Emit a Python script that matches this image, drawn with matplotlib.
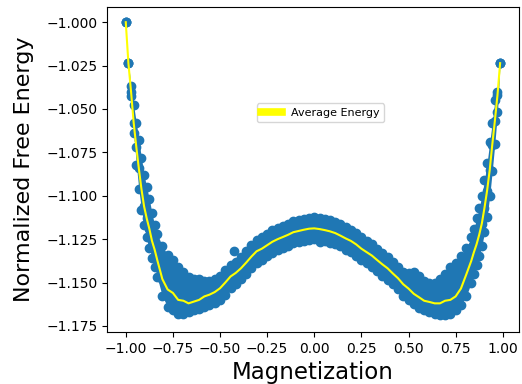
import numpy as np
import matplotlib.pyplot as plt

# Magnetization grid (finer on the steep ends)
m = [-1.000, -0.986, -0.972, -0.958, -0.944, -0.931, -0.917, -0.903, -0.889, -0.875, -0.861, -0.847, -0.833,
     -0.806, -0.778, -0.750, -0.722, -0.694, -0.667, -0.639, -0.611, -0.583, -0.556, -0.528, -0.500,
     -0.472, -0.444, -0.417, -0.389, -0.361, -0.333, -0.306, -0.278, -0.250, -0.222, -0.194, -0.167,
     -0.139, -0.111, -0.083, -0.056, -0.028, 0.000, 0.028, 0.056, 0.083, 0.111, 0.139, 0.167, 0.194,
     0.222, 0.250, 0.278, 0.306, 0.333, 0.361, 0.389, 0.417, 0.444, 0.472, 0.500, 0.528, 0.556, 0.583,
     0.611, 0.639, 0.667, 0.694, 0.722, 0.750, 0.778, 0.806,
     0.833, 0.847, 0.861, 0.875, 0.889, 0.903, 0.917, 0.931, 0.944, 0.958, 0.972, 0.986]

# Average free energy at each magnetization
e_avg = [-1.000, -1.0236, -1.040, -1.058, -1.072, -1.084, -1.096, -1.106, -1.113, -1.119, -1.126, -1.131, -1.137,
         -1.148, -1.154, -1.156, -1.160, -1.1605, -1.162, -1.161, -1.160, -1.158, -1.157, -1.1555, -1.1533,
         -1.150, -1.1465, -1.1445, -1.1418, -1.1385, -1.135, -1.132, -1.1305, -1.1285, -1.1265, -1.125, -1.1238,
         -1.1225, -1.121, -1.1203, -1.1196, -1.119, -1.1188, -1.1192, -1.1198, -1.1205, -1.1215, -1.123, -1.1246, -1.126,
         -1.128, -1.1305, -1.1325, -1.1345, -1.137, -1.1395, -1.1418, -1.1448, -1.1475, -1.151, -1.1535, -1.1565, -1.1585, -1.1605,
         -1.1612, -1.162, -1.162, -1.1605, -1.160, -1.158, -1.1535, -1.1455,
         -1.1375, -1.1325, -1.128, -1.1225, -1.116, -1.107, -1.097, -1.085, -1.071, -1.057, -1.042, -1.0236]

# Lowest and highest sampled energies at each magnetization
e_low = [-1.000, -1.0236, -1.0425, -1.064, -1.082, -1.096, -1.108, -1.117, -1.124, -1.130, -1.136, -1.141, -1.147,
         -1.158, -1.164, -1.166, -1.168, -1.168, -1.167, -1.166, -1.165, -1.164, -1.163, -1.162, -1.160,
         -1.157, -1.153, -1.151, -1.148, -1.145, -1.1415, -1.1385, -1.137, -1.135, -1.133, -1.1315, -1.130,
         -1.129, -1.1275, -1.1265, -1.126, -1.1255, -1.125, -1.1265, -1.126, -1.127, -1.128, -1.129, -1.131, -1.1325,
         -1.1345, -1.137, -1.139, -1.141, -1.1435, -1.146, -1.1485, -1.151, -1.154, -1.1575, -1.160, -1.1625, -1.1645, -1.166,
         -1.167, -1.168, -1.169, -1.169, -1.168, -1.166, -1.163, -1.158,
         -1.150, -1.145, -1.140, -1.135, -1.129, -1.121, -1.112, -1.100, -1.086, -1.070, -1.052, -1.0236]

e_high = [-1.000, -1.0236, -1.0367, -1.048, -1.058, -1.068, -1.078, -1.088, -1.095, -1.102, -1.110, -1.117, -1.122,
          -1.129, -1.134, -1.137, -1.141, -1.144, -1.147, -1.148, -1.148, -1.149, -1.149, -1.148, -1.146,
          -1.143, -1.140, -1.138, -1.1355, -1.132, -1.1285, -1.1255, -1.124, -1.122, -1.120, -1.1185, -1.1175,
          -1.116, -1.1145, -1.114, -1.1133, -1.1128, -1.1125, -1.113, -1.1135, -1.114, -1.115, -1.1165, -1.118, -1.1195,
          -1.1215, -1.124, -1.126, -1.128, -1.1305, -1.133, -1.1355, -1.138, -1.141, -1.144, -1.1445, -1.144, -1.146, -1.149,
          -1.150, -1.150, -1.148, -1.145, -1.141, -1.139, -1.135, -1.130,
          -1.124, -1.119, -1.113, -1.107, -1.100, -1.091, -1.081, -1.069, -1.058, -1.045, -1.040, -1.0236]

# Isolated samples away from the band
out_m = [-0.426]
out_e = [-1.132]

blue = '#1f77b4'

fig, ax = plt.subplots(figsize=(5.22, 3.84), dpi=100)
fig.subplots_adjust(left=0.205, right=0.994, bottom=0.135, top=0.982)

ax.fill_between(m, e_low, e_high, color=blue, linewidth=0)
ax.scatter(m, e_low, color=blue, s=36)
ax.scatter(m, e_high, color=blue, s=36)
ax.scatter(m, e_avg, color=blue, s=36)
ax.scatter(out_m, out_e, color=blue, s=36)
ax.plot(m, e_avg, color='yellow', linewidth=1.5, label='Average Energy')

ax.set_xlim(-1.0995, 1.0855)
ax.set_ylim(-1.1786, -0.9912)
ax.set_xticks(np.arange(-1.0, 1.01, 0.25))
ax.set_yticks(np.arange(-1.175, -0.99, 0.025))
ax.tick_params(labelsize=10)
ax.set_xlabel('Magnetization', fontsize=16.5)
ax.set_ylabel('Normalized Free Energy', fontsize=16, labelpad=9)

leg = ax.legend(loc='center', bbox_to_anchor=(0.518, 0.674), fontsize=8, handlelength=1.9)
leg.get_lines()[0].set_linewidth(5.5)

plt.savefig('out.png')
